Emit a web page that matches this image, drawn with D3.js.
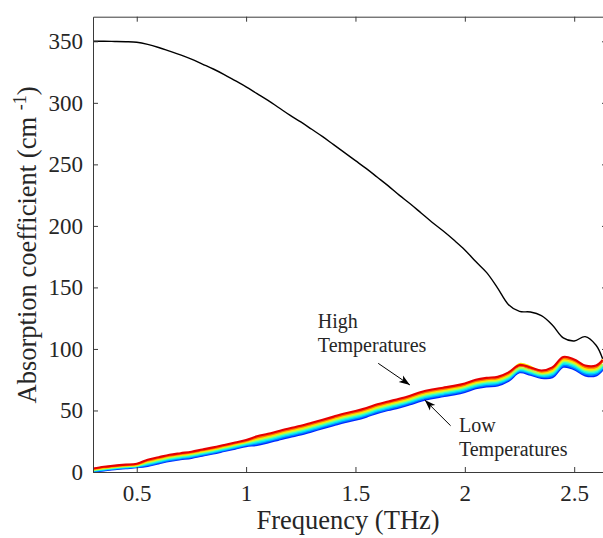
<!DOCTYPE html>
<html>
<head>
<meta charset="utf-8">
<script src="https://cdn.jsdelivr.net/npm/d3@7"></script>
<style>
  body { margin: 0; background: #fff; }
  .axis path, .axis line { stroke: #3a3a3a; stroke-width: 1; }
</style>
</head>
<body>
<div id="chart-area"></div>
<script>
// Frequency samples (THz)
var freq = [0.30, 0.35, 0.40, 0.45, 0.50, 0.55, 0.60, 0.65, 0.70, 0.75,
    0.80, 0.85, 0.90, 0.95, 1.00, 1.05, 1.10, 1.15, 1.20, 1.25,
    1.30, 1.35, 1.40, 1.45, 1.50, 1.55, 1.60, 1.65, 1.70, 1.75,
    1.80, 1.85, 1.90, 1.95, 2.00, 2.05, 2.10, 2.15, 2.20, 2.25,
    2.30, 2.35, 2.40, 2.45, 2.50, 2.55, 2.60, 2.63];

// Black curve (cm^-1)
var blackCurve = [350, 350, 349.9, 349.7, 349.2, 347.5, 345, 342, 339, 335.5,
    331.5, 327.5, 323, 318, 313, 307.5, 302, 296, 290, 284.5,
    278.5, 272.5, 266, 259.5, 253, 246.5, 239.5, 232.5, 225, 218,
    210.5, 203, 196, 188.5, 180.5, 171, 162, 149.5, 136, 130.5,
    130, 127, 119.5, 109, 106.5, 110, 103, 92];

// Temperature curves, lowest (blue) to highest (red)
var temp1 = [0.3, 1.3, 2.3, 3.1, 3.8, 5.0, 7.0, 9.0, 10.3, 11.5,
    13.3, 15.0, 17.0, 19.0, 21.0, 22.0, 24.0, 26.3, 28.5, 30.5,
    33.0, 35.5, 38.0, 40.5, 42.5, 45.0, 48.0, 50.3, 52.5, 55.0,
    58.0, 60.0, 61.5, 63.0, 65.0, 68.0, 69.5, 70.3, 74.0, 81.0,
    79.0, 76.5, 77.0, 85.5, 83.5, 78.5, 78.5, 83.0];
var temp2 = [0.7, 1.7, 2.7, 3.5, 4.2, 5.7, 7.7, 9.7, 11.0, 12.2,
    14.0, 15.7, 17.7, 19.7, 21.7, 23.0, 25.0, 27.3, 29.5, 31.5,
    34.0, 36.5, 39.0, 41.5, 43.5, 46.0, 49.0, 51.3, 53.5, 56.0,
    59.0, 61.0, 62.5, 64.0, 66.0, 69.0, 70.5, 71.3, 75.0, 81.9,
    79.9, 77.4, 78.1, 86.6, 84.6, 79.6, 79.6, 84.1];
var temp3 = [1.1, 2.1, 3.1, 3.9, 4.6, 6.4, 8.4, 10.4, 11.7, 12.9,
    14.7, 16.4, 18.4, 20.4, 22.4, 24.0, 26.0, 28.3, 30.5, 32.5,
    35.0, 37.5, 40.0, 42.5, 44.5, 47.0, 50.0, 52.3, 54.5, 57.0,
    60.0, 62.0, 63.5, 65.0, 67.0, 70.0, 71.5, 72.3, 76.0, 82.7,
    80.7, 78.2, 79.3, 87.8, 85.8, 80.8, 80.8, 85.3];
var temp4 = [1.4, 2.5, 3.5, 4.3, 5.0, 7.1, 9.1, 11.1, 12.4, 13.6,
    15.4, 17.1, 19.1, 21.1, 23.1, 25.0, 27.0, 29.3, 31.5, 33.5,
    36.0, 38.5, 41.0, 43.5, 45.5, 48.0, 51.0, 53.3, 55.5, 58.0,
    61.0, 63.0, 64.5, 66.0, 68.0, 71.0, 72.5, 73.3, 77.0, 83.6,
    81.6, 79.1, 80.4, 88.9, 86.9, 81.9, 81.9, 86.4];
var temp5 = [1.7, 2.9, 3.9, 4.7, 5.4, 7.9, 9.9, 11.9, 13.2, 14.4,
    16.2, 17.9, 19.9, 21.9, 23.9, 26.0, 28.0, 30.3, 32.5, 34.5,
    37.0, 39.5, 42.0, 44.5, 46.5, 49.0, 52.0, 54.3, 56.5, 59.0,
    62.0, 64.0, 65.5, 67.0, 69.0, 72.0, 73.5, 74.3, 78.0, 84.4,
    82.4, 79.9, 81.6, 90.1, 88.1, 83.1, 83.1, 87.6];
var temp6 = [2.0, 3.3, 4.3, 5.1, 5.8, 8.6, 10.6, 12.6, 13.9, 15.1,
    16.9, 18.6, 20.6, 22.6, 24.6, 27.0, 29.0, 31.3, 33.5, 35.5,
    38.0, 40.5, 43.0, 45.5, 47.5, 50.0, 53.0, 55.3, 57.5, 60.0,
    63.0, 65.0, 66.5, 68.0, 70.0, 73.0, 74.5, 75.3, 79.0, 87.8,
    85.5, 80.8, 82.7, 91.2, 89.2, 84.2, 84.2, 91.5];
var temp7 = [2.4, 3.8, 4.8, 5.6, 6.3, 9.3, 11.3, 13.3, 14.6, 15.8,
    17.6, 19.3, 21.3, 23.3, 25.3, 28.0, 30.0, 32.3, 34.5, 36.5,
    39.0, 41.5, 44.0, 46.5, 48.5, 51.0, 54.0, 56.3, 58.5, 61.0,
    64.0, 66.0, 67.5, 69.0, 71.0, 74.0, 75.5, 76.3, 80.0, 86.1,
    84.1, 81.6, 83.9, 92.4, 90.4, 85.4, 85.4, 89.9];
var temp8 = [2.8, 4.2, 5.2, 6.0, 6.7, 10.0, 12.0, 14.0, 15.3, 16.5,
    18.3, 20.0, 22.0, 24.0, 26.0, 29.0, 31.0, 33.3, 35.5, 37.5,
    40.0, 42.5, 45.0, 47.5, 49.5, 52.0, 55.0, 57.3, 59.5, 62.0,
    65.0, 67.0, 68.5, 70.0, 72.0, 75.0, 76.5, 77.3, 81.0, 87.0,
    85.0, 82.5, 85.0, 93.5, 91.5, 86.5, 86.5, 91.0];

var tempCurves = [temp1, temp2, temp3, temp4, temp5, temp6, temp7, temp8];
var tempColors = ["#0026ff", "#0080ff", "#00d9ff", "#33ffcc",
    "#a6ff59", "#ffe600", "#ff7300", "#e60000"];

// Tick values
var xTicks = [0.5, 1, 1.5, 2, 2.5];
var yTicks = [0, 50, 100, 150, 200, 250, 300, 350];

var serif = "'Liberation Serif', 'Times New Roman', Times, 'DejaVu Serif', serif";

/********************************************/
// Svg dimension creation ___________________/
/********************************************/

var margin = { left: 93, right: -4, top: 16.7, bottom: 66 },
    width = 603 - margin.left - margin.right,
    height = 538 - margin.top - margin.bottom;

var svg = d3.select("#chart-area").append("svg")
    .attr("width", 603)
    .attr("height", 538)
    .attr("font-family", serif);

svg.append("rect").attr("width", 603).attr("height", 538).attr("fill", "#fff");

var g = svg.append("g")
    .attr("transform", "translate(" + margin.left + "," + margin.top + ")");

var x = d3.scaleLinear().domain([0.3, 2.65]).range([0, width]);
var y = d3.scaleLinear().domain([0, 370]).range([height, 0]);

g.append("clipPath").attr("id", "plot-clip")
    .append("rect").attr("width", width).attr("height", height);

var plot = g.append("g").attr("clip-path", "url(#plot-clip)");

// Temperature lines, low to high
tempCurves.forEach(function (vals, i) {
    var line = d3.line()
        .x(function (d, j) { return x(freq[j]); })
        .y(function (d) { return y(d); })
        .curve(d3.curveCatmullRom);
    plot.append("path")
        .attr("fill", "none")
        .attr("stroke", tempColors[i])
        .attr("stroke-width", 2.1)
        .attr("d", line(vals));
});

// Black curve
var blackLine = d3.line()
    .x(function (d, j) { return x(freq[j]); })
    .y(function (d) { return y(d); })
    .curve(d3.curveCatmullRom);

plot.append("path")
    .attr("fill", "none")
    .attr("stroke", "#000")
    .attr("stroke-width", 1.4)
    .attr("d", blackLine(blackCurve));

/********************************************/
// Axes _____________________________________/
/********************************************/

var fmt = function (d) { return String(d); };

g.append("g").attr("class", "axis")
    .attr("transform", "translate(0," + height + ")")
    .call(d3.axisBottom(x).tickValues(xTicks).tickFormat(fmt)
        .tickSizeInner(-5).tickSizeOuter(0).tickPadding(13));

g.append("g").attr("class", "axis")
    .call(d3.axisLeft(y).tickValues(yTicks).tickFormat(fmt)
        .tickSizeInner(-5).tickSizeOuter(0).tickPadding(10));

g.append("g").attr("class", "axis")
    .call(d3.axisTop(x).tickValues(xTicks).tickFormat("")
        .tickSizeInner(-5).tickSizeOuter(0));

g.append("g").attr("class", "axis")
    .attr("transform", "translate(" + width + ",0)")
    .call(d3.axisRight(y).tickValues(yTicks).tickFormat("")
        .tickSizeInner(-5).tickSizeOuter(0));

g.selectAll(".axis").attr("font-family", serif).attr("font-size", 23);
g.selectAll(".axis text")
    .style("font-family", serif)
    .attr("fill", "#262626");

// Axis titles
svg.append("text")
    .attr("x", 348)
    .attr("y", 529)
    .attr("text-anchor", "middle")
    .attr("fill", "#262626")
    .style("font-family", serif)
    .style("font-size", "26.5px")
    .text("Frequency (THz)");

var yTitle = svg.append("text")
    .attr("transform", "translate(36,245) rotate(-90)")
    .attr("text-anchor", "middle")
    .attr("fill", "#262626")
    .style("font-family", serif)
    .style("font-size", "26.5px");
yTitle.append("tspan").text("Absorption coefficient (cm ");
yTitle.append("tspan").attr("dy", -10).style("font-size", "18px").text("-1");
yTitle.append("tspan").attr("dy", 10).text(")");

/********************************************/
// Annotations ______________________________/
/********************************************/

var defs = svg.append("defs");
defs.append("marker")
    .attr("id", "arrowhead")
    .attr("viewBox", "0 0 10 10")
    .attr("refX", 10).attr("refY", 5)
    .attr("markerWidth", 11).attr("markerHeight", 11)
    .attr("markerUnits", "userSpaceOnUse")
    .attr("orient", "auto")
    .append("path")
    .attr("d", "M0,1.5 L10,5 L0,8.5 L2.5,5 Z")
    .attr("fill", "#000");

function note(lines, tx, ty, from, to) {
    var t = g.append("text")
        .attr("x", x(tx)).attr("y", y(ty))
        .attr("fill", "#262626")
        .style("font-family", serif)
        .style("font-size", "20px");
    lines.forEach(function (s, i) {
        t.append("tspan").attr("x", x(tx)).attr("dy", i ? 23.5 : 0).text(s);
    });
    g.append("line")
        .attr("x1", x(from[0])).attr("y1", y(from[1]))
        .attr("x2", x(to[0])).attr("y2", y(to[1]))
        .attr("stroke", "#000").attr("stroke-width", 1)
        .attr("marker-end", "url(#arrowhead)");
}

note(["High", "Temperatures"], 1.328, 117, [1.604, 88.3], [1.749, 70.7]);
note(["Low", "Temperatures"], 1.973, 32.3, [1.935, 37.6], [1.817, 58.5]);
</script>
</body>
</html>
